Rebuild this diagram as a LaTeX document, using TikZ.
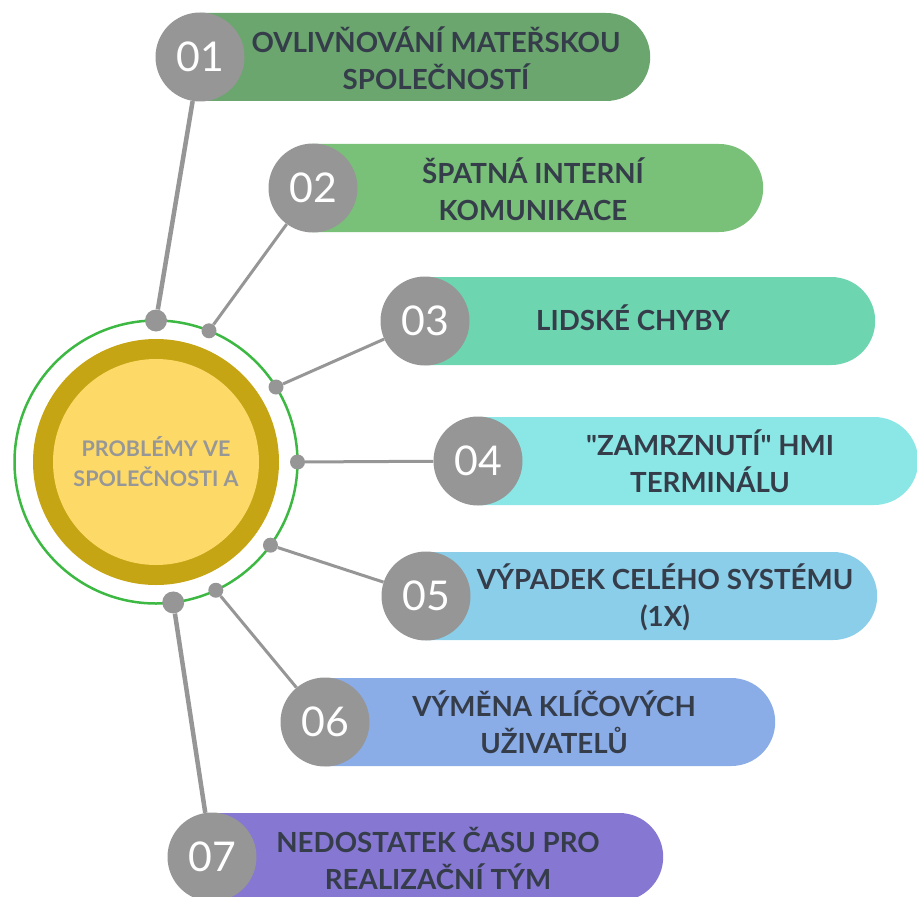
\documentclass[tikz,border=0pt]{standalone}
\usepackage{fontspec}
\setmainfont{Lato}[Ligatures=TeXOff]
\usetikzlibrary{shapes.misc, positioning}

\definecolor{pillone}{HTML}{6AA66E}
\definecolor{pilltwo}{HTML}{79C178}
\definecolor{pillthree}{HTML}{6DD5B0}
\definecolor{pillfour}{HTML}{8BE7E6}
\definecolor{pillfive}{HTML}{8BCEE9}
\definecolor{pillsix}{HTML}{8AADE8}
\definecolor{pillseven}{HTML}{8677D2}
\definecolor{numgray}{HTML}{969696}
\definecolor{ringgreen}{HTML}{3CB843}
\definecolor{goldring}{HTML}{C6A515}
\definecolor{goldfill}{HTML}{FDDA68}
\definecolor{coretext}{HTML}{979797}
\definecolor{labeltext}{HTML}{363D4A}

\begin{document}
\begin{tikzpicture}[
    x=1pt, y=-1pt,
    pill/.style={rounded rectangle, rounded rectangle west arc=none, minimum height=88pt, inner sep=0pt, anchor=west},
    numdot/.style={circle, fill=numgray, minimum size=89pt, inner sep=0pt, text=white, font=\fontsize{41}{41}\selectfont},
    tag/.style={align=center, text=labeltext, inner sep=0pt, font=\fontsize{27.7}{37}\selectfont\bfseries},
    link/.style={draw=numgray, line width=3pt},
    biglink/.style={link, line width=4.5pt},
    knob/.style={circle, fill=numgray, minimum size=15pt, inner sep=0pt},
    bigknob/.style={knob, minimum size=22pt}
]
\clip (0,0) rectangle (917,896);

% Centre
\node[circle, draw=ringgreen, line width=2.5pt, minimum size=283pt, outer sep=0pt] (ring) at (156,462) {};
\node[circle, fill=goldring, minimum size=246pt] (core) at (ring) {};
\node[circle, fill=goldfill, minimum size=206pt, align=center, text=coretext,
      font=\fontsize{21.5}{30}\selectfont\bfseries] (corein) at (core) {PROBLÉMY VE\\SPOLEČNOSTI A};

% Pills
\node[pill, fill=pillone, minimum width=450pt] (p1) at (200,57) {};
\node[pill, fill=pilltwo, minimum width=450pt] (p2) at (313,188) {};
\node[pill, fill=pillthree, minimum width=450pt] (p3) at (425,321) {};
\node[pill, fill=pillfour, minimum width=440pt] (p4) at (478,461) {};
\node[pill, fill=pillfive, minimum width=451pt] (p5) at (426,596) {};
\node[pill, fill=pillsix, minimum width=450pt] (p6) at (325,722) {};
\node[pill, fill=pillseven, minimum width=451pt] (p7) at (212,857) {};

% Numbers
\node[numdot] (n1) at (p1.west) {01};
\node[numdot] (n2) at (p2.west) {02};
\node[numdot] (n3) at (p3.west) {03};
\node[numdot] (n4) at (p4.west) {04};
\node[numdot] (n5) at (p5.west) {05};
\node[numdot] (n6) at (p6.west) {06};
\node[numdot] (n7) at (p7.west) {07};

% Labels
\node[tag] (t1) at (436,58) {OVLIVŇOVÁNÍ MATEŘSKOU\\SPOLEČNOSTÍ};
\node[tag] (t2) at (533,189) {ŠPATNÁ INTERNÍ\\KOMUNIKACE};
\node[tag] (t3) at (633,318) {LIDSKÉ CHYBY};
\node[tag] (t4) at (710,461) {"ZAMRZNUTÍ" HMI\\TERMINÁLU};
\node[tag] (t5) at (665,597) {VÝPADEK CELÉHO SYSTÉMU\\(1X)};
\node[tag] (t6) at (554,722) {VÝMĚNA KLÍČOVÝCH\\UŽIVATELŮ};
\node[tag] (t7) at (438,858) {NEDOSTATEK ČASU PRO\\REALIZAČNÍ TÝM};

% Knobs on the ring
\node[bigknob] (d1) at (ring.90) {};
\node[knob] (d2) at (ring.68) {};
\node[knob] (d3) at (ring.32) {};
\node[knob] (d4) at (ring.0) {};
\node[knob] (d5) at (ring.-36) {};
\node[knob] (d6) at (ring.-65) {};
\node[bigknob] (d7) at (ring.-83) {};

% Links
\draw[biglink] (d1) -- (n1);
\draw[link] (d2) -- (n2);
\draw[link] (d3) -- (n3);
\draw[link] (d4) -- (n4);
\draw[link] (d5) -- (n5);
\draw[link] (d6) -- (n6);
\draw[biglink] (d7) -- (n7);

\end{tikzpicture}
\end{document}
